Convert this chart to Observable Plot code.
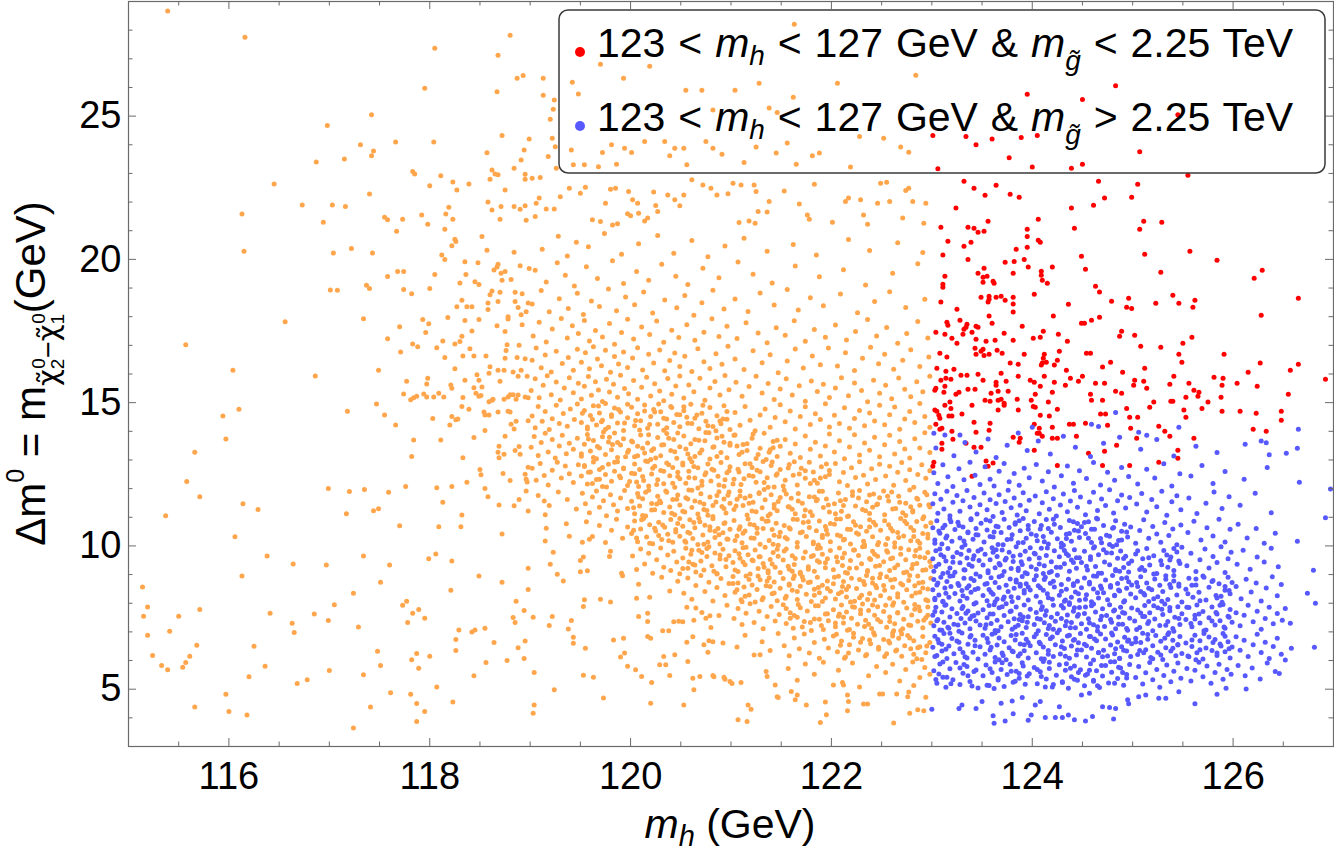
<!DOCTYPE html>
<html><head><meta charset="utf-8">
<script src="https://cdn.jsdelivr.net/npm/d3@7"></script>
<script src="https://cdn.jsdelivr.net/npm/@observablehq/plot@0.6"></script>
<style>body{margin:0;background:#fff}svg{display:block}text{white-space:pre}</style>
</head><body><div id="chart"></div>
<script>
// ---------- axes / labels ----------
const xDomain = [115, 127];
const yDomain = [3, 29];
const xMajorTicks = [116, 118, 120, 122, 124, 126];
const xMinorTicks = [115.5,116.5,117,117.5,118.5,119,119.5,120.5,121,121.5,122.5,123,123.5,124.5,125,125.5,126.5];
const yMajorTicks = [5, 10, 15, 20, 25];
const yMinorTicks = [4,6,7,8,9,11,12,13,14,16,17,18,19,21,22,23,24,26,27,28];
const seriesColors = {orange: "#FFA64D", red: "#FF0000", blue: "#5858FF"};
const legendRelations = ["<", ">"];
const legendColors = [seriesColors.red, seriesColors.blue];

// ---------- data: [m_h (GeV), Δm0 (GeV)] ----------
const orangeLeft = [
[115.39,28.67],[116.16,27.75],[118.05,27.37],[118.8,27.82],[118.68,27.12],[117.95,25.97],[118.67,25.85],[118.87,26.32],[118.93,26.42],[117.42,25.05],[116.98,24.67],[117.31,24.0],[117.66,24.1],[118.04,24.1],[118.72,24.32],[118.99,24.2],[116.87,23.4],[117.15,23.5],[117.42,23.62],[117.44,23.78],[118.57,23.72],[118.94,23.82],[118.91,23.47],[116.45,22.63],[117.83,23.07],[117.85,22.98],[118.11,22.92],[118.23,22.7],[118.27,22.42],[118.39,22.63],[118.62,23.12],[118.6,22.8],[118.65,22.98],[118.68,22.95],[118.84,23.18],[118.95,22.97],[118.95,22.8],[118.75,22.42],[117.4,22.28],[118.0,22.57],
[116.13,21.58],[116.73,21.9],[117.03,21.9],[117.16,21.85],[116.94,21.3],[117.55,21.47],[117.58,21.38],[117.73,21.4],[117.92,21.55],[117.98,21.23],[118.19,21.82],[118.16,21.58],[118.23,21.4],[118.58,22.0],[118.62,21.72],[118.71,21.85],[118.7,21.4],[118.84,21.85],[118.9,21.75],[118.95,21.87],[118.96,21.37],[117.67,20.98],[118.15,21.05],[118.52,20.8],[118.25,20.7],[118.26,20.62],[118.22,20.48],[116.15,20.28],[117.04,20.22],[117.22,20.38],[117.43,20.22],[118.12,20.15],[118.15,20.0],[118.57,20.32],[118.84,20.25],[118.35,19.92],[118.48,19.88],[118.68,19.83],[118.64,19.63],[118.67,19.73],[118.71,19.52],[118.75,19.58],[118.9,19.78],[118.99,19.68],[117.58,19.4],[117.68,19.58],[117.74,19.58],[118.05,19.47],[118.36,19.47],[118.72,19.27],[118.81,19.3],[118.3,19.18],[118.45,19.22],[118.49,19.12],
[117.01,18.93],[117.08,18.92],[117.37,19.1],[117.4,18.98],[117.74,18.95],[117.82,18.8],[118.0,18.98],[118.62,18.9],[118.6,18.77],[118.7,18.85],[118.85,18.85],[118.92,18.8],[118.98,18.48],[118.32,18.57],[118.58,18.48],[118.58,18.25],[118.68,18.53],[118.85,18.53],[118.88,18.32],[118.27,18.35],[118.37,18.35],[118.42,18.35],[118.96,18.17],[118.78,18.0],[118.78,17.92],[118.91,18.07],[118.35,17.87],[118.49,17.9],[118.18,17.97],[116.56,17.82],[117.34,17.93],[117.93,17.9],[117.99,17.75],[117.96,17.45],[117.7,17.65],[118.42,17.5],[118.67,17.68],[118.75,17.48],[118.92,17.72],[115.57,17.02],[117.58,17.23],[117.83,17.05],[117.88,16.95],[118.13,17.15],[118.07,16.92],[118.25,17.05],[118.3,17.13],[118.32,17.32],[118.4,16.88],[118.77,17.02],[118.76,16.82],[118.75,16.55],[118.89,17.0],[118.87,16.58],[118.95,16.53],[117.71,16.77],[118.15,16.58],[118.33,16.63],[118.44,16.63],[118.56,16.63],
[116.04,16.13],[116.86,15.93],[117.49,16.13],[118.25,16.18],[118.6,16.25],[118.59,16.03],[118.68,16.13],[118.74,16.13],[118.83,16.07],[118.88,15.92],[118.91,16.13],[118.97,15.92],[118.47,15.97],[118.49,15.78],[117.77,15.75],[117.98,15.85],[117.97,15.65],[118.35,15.78],[118.7,15.75],[118.21,15.62],[118.22,15.5],[118.44,15.52],[118.46,15.33],[118.52,15.55],[118.49,15.22],[118.51,15.25],[117.74,15.3],[117.84,15.17],[117.87,15.22],[117.81,15.1],[117.94,15.3],[117.97,15.2],[118.04,15.2],[118.09,15.33],[118.14,15.2],[118.33,15.18],[118.59,15.03],[118.62,15.08],[118.63,15.12],[118.74,15.12],[118.78,15.2],[118.8,15.28],[118.83,15.28],[118.86,15.12],[118.88,15.27],[118.95,15.2],[118.98,15.17],
[117.47,14.95],[117.18,14.7],[115.94,14.53],[116.1,14.77],[117.55,14.57],[118.32,14.87],[118.39,14.77],[118.54,14.67],[118.55,14.57],[118.59,14.57],[118.68,14.67],[118.78,14.7],[118.8,14.67],[118.03,14.45],[118.26,14.4],[118.28,14.43],[118.22,14.52],[118.86,14.35],[118.81,14.25],[118.98,14.37],[117.66,14.22],[118.2,14.22],[118.84,14.08],[118.55,14.03],[115.97,13.73],[117.84,13.7],[118.11,13.7],[118.44,13.78],[118.75,13.83],[115.66,13.27],[118.69,13.48],[118.68,13.27],[118.69,13.08],[118.74,13.2],[118.85,13.33],[118.89,13.47],[118.9,13.2],[117.82,13.12],[118.33,13.08],[118.98,12.75],[115.58,12.25],[118.5,12.67],[118.51,12.48],[118.73,12.53],[118.8,12.28],[118.95,12.5],[118.96,12.33],
[115.71,11.72],[116.99,12.0],[117.2,11.9],[117.35,11.97],[117.59,11.87],[117.76,12.07],[118.07,12.03],[118.22,12.07],[118.37,12.22],[118.55,12.0],[118.58,11.72],[118.97,12.23],[118.96,11.92],[116.14,11.47],[116.29,11.27],[115.37,11.05],[117.17,11.12],[117.44,11.23],[117.49,11.3],[118.13,11.52],[118.32,11.08],[118.69,11.43],[118.84,11.4],[118.89,11.62],[118.98,11.22],[116.06,10.32],[117.7,10.7],[118.09,10.67],[118.31,10.67],[118.72,10.42],[116.38,9.65],[116.64,9.37],[116.97,9.33],[117.34,9.65],[117.6,9.33],[117.99,9.55],[118.06,9.72],[118.22,9.47],[118.98,9.22],[116.13,8.95],[117.51,8.73],[118.49,8.95],[118.72,8.73],[118.98,8.48],[115.14,8.57],[118.21,8.45],[117.24,8.35],[118.86,8.07],
[115.19,7.87],[115.15,7.55],[115.71,7.78],[115.5,7.55],[117.05,7.95],[117.73,7.93],[117.77,8.07],[117.89,7.78],[117.83,7.65],[116.41,7.65],[116.85,7.62],[116.99,7.4],[117.95,7.48],[117.78,7.33],[116.63,7.3],[116.65,6.98],[118.94,7.75],[118.83,7.5],[118.85,7.33],[117.29,7.17],[115.19,6.88],[115.41,7.02],[118.29,7.07],[118.42,7.0],[118.45,7.07],[118.55,7.13],[118.26,6.73],[118.64,6.63],[118.95,6.68],[118.88,6.45],[115.68,6.53],[116.25,6.5],[115.24,6.18],[115.61,6.15],[115.57,5.93],[115.54,5.77],[115.33,5.83],[115.39,5.68],[117.48,6.32],[117.87,6.25],[117.82,6.03],[117.89,5.73],[118.0,6.15],[118.26,6.35],[118.77,6.0],[118.56,5.93],[118.94,6.07],[116.36,5.8],[117.51,5.83],[117.0,5.65],[116.2,5.43],[117.34,5.5],[118.44,5.47],[116.68,5.2],[116.78,5.33],[118.07,5.08],[117.61,4.88],[115.97,4.82],[117.81,4.82],[115.66,4.38],[117.41,4.38],[117.87,4.5],[118.23,4.55],[116.0,4.22],[116.18,4.1],[117.95,4.22],[117.87,3.87],[117.24,3.65]
];

const orangeUpper = [
[121.63,28.21],[119.13,26.32],[119.42,26.18],[119.48,25.77],[119.7,26.81],[120.19,26.74],[119.93,26.32],[120.55,25.9],[120.71,25.9],[121.04,25.9],[121.28,26.15],[121.62,25.66],[122.06,26.15],[122.84,26.43],[119.13,25.73],[119.24,25.56],[119.2,24.89],[119.23,25.24],[119.81,24.0],[119.72,23.73],[119.94,23.88],[120.01,23.73],[120.14,24.11],[120.34,24.11],[120.44,23.88],[120.39,23.62],[120.53,23.88],[120.56,23.3],[120.75,24.11],[120.82,23.88],[120.91,23.67],[121.13,23.38],[121.25,23.92],[121.45,23.71],[121.56,24.06],[121.65,23.32],[121.81,23.62],[121.88,23.71],[122.19,23.22],[122.28,24.29],[122.52,24.23],[122.69,23.92],[122.77,23.74],[121.38,25.28],[121.46,25.13],[120.82,25.21],[119.43,23.3],[119.54,23.3],[119.68,23.23],[119.86,23.32],[119.26,23.18],[119.41,23.82],[119.22,24.23],[119.25,23.93],[119.18,23.59],
[119.02,22.83],[119.1,22.86],[119.09,22.14],[119.06,21.96],[119.16,21.76],[119.24,21.76],[119.05,21.5],[119.3,22.19],[119.39,22.48],[119.5,22.31],[119.55,22.52],[119.8,22.45],[119.85,22.48],[119.98,22.37],[120.02,22.08],[120.07,21.96],[119.75,21.96],[119.62,21.38],[119.7,21.32],[119.82,21.2],[119.87,21.24],[119.97,21.59],[120.0,21.52],[120.08,21.61],[120.17,21.44],[120.14,21.34],[120.23,22.35],[120.25,21.88],[120.27,21.67],[120.37,22.25],[120.44,22.08],[120.53,22.25],[120.49,21.87],[120.61,22.78],[120.72,22.6],[120.8,22.48],[120.86,22.25],[120.97,22.29],[121.02,22.66],[121.1,22.6],[121.23,22.6],[121.25,22.37],[121.53,22.39],[121.68,21.93],[121.38,22.02],[121.36,21.65],[121.27,21.67],[121.18,21.34],[121.24,21.26],[121.08,21.29],[121.76,21.55],[121.78,21.4],[121.83,22.62],[122.14,22.02],[122.17,22.14],[122.29,22.08],[122.32,21.55],[122.46,21.96],[122.58,22.02],[122.49,22.66],[122.55,22.69],[122.74,22.4],[122.77,22.48],[122.81,22.02],[122.94,21.96],[122.71,21.44],[122.92,21.26],[122.01,21.3],[122.36,21.23]
];

const orangeCore = [
[119.12,20.35],[119.28,20.81],[119.37,20.12],[119.46,20.6],[119.58,20.44],[119.74,20.9],[119.91,20.18],[120.08,20.55],[120.27,20.83],[120.43,20.21],[120.61,20.66],[120.77,20.09],[120.94,20.47],[121.13,20.74],[121.36,20.28],[121.62,20.52],[121.85,20.15],[122.17,20.69],[122.38,20.31],[122.66,20.58],[122.91,20.24],
[119.05,19.62],[119.16,19.21],[119.27,19.88],[119.35,19.45],[119.44,19.07],[119.56,19.74],[119.67,19.33],[119.82,19.95],[119.93,19.16],[120.06,19.58],[120.18,19.27],[120.31,19.83],[120.45,19.41],[120.57,19.12],[120.72,19.69],[120.88,19.36],[121.07,19.91],[121.22,19.48],[121.41,19.18],[121.64,19.77],[121.88,19.39],[122.12,19.64],[122.34,19.11],[122.61,19.52],[122.86,19.85],
[119.02,18.44],[119.11,18.91],[119.19,18.17],[119.29,18.63],[119.38,18.29],[119.47,18.82],[119.53,18.08],[119.61,18.55],[119.69,18.36],[119.78,18.97],[119.86,18.21],[119.95,18.69],[120.04,18.42],[120.13,18.86],[120.22,18.13],[120.34,18.58],[120.46,18.31],[120.54,18.74],[120.63,18.05],[120.71,18.49],[120.82,18.92],[120.93,18.27],[121.04,18.62],[121.17,18.18],[121.29,18.83],[121.43,18.41],[121.56,18.95],[121.67,18.23],[121.79,18.66],[121.92,18.38],[122.09,18.79],[122.26,18.14],[122.43,18.53],[122.58,18.87],[122.74,18.32],[122.93,18.61],
[119.03,17.33],[119.09,17.81],[119.16,17.12],[119.22,17.57],[119.31,17.94],[119.37,17.26],[119.42,17.68],[119.48,17.41],[119.54,17.87],[119.59,17.15],[119.65,17.52],[119.72,17.29],[119.79,17.76],[119.84,17.04],[119.91,17.45],[119.97,17.91],[120.03,17.22],[120.11,17.64],[120.19,17.38],[120.26,17.85],[120.33,17.11],[120.41,17.53],[120.48,17.27],[120.56,17.72],[120.64,17.18],[120.73,17.46],[120.81,17.93],[120.88,17.31],[120.96,17.67],[121.06,17.24],[121.15,17.79],[121.27,17.43],[121.36,17.09],[121.45,17.61],[121.54,17.35],[121.63,17.86],[121.74,17.14],[121.83,17.55],[121.94,17.28],[122.04,17.71],[122.15,17.19],[122.24,17.48],[122.36,17.9],[122.45,17.33],[122.55,17.62],[122.66,17.07],[122.75,17.41],[122.86,17.83],[122.96,17.26],
[119.02,16.48],[119.06,16.91],[119.11,16.22],[119.15,16.66],[119.21,16.07],[119.26,16.79],[119.32,16.37],[119.38,16.58],[119.43,16.13],[119.47,16.86],[119.51,16.41],[119.55,16.74],[119.59,16.18],[119.63,16.95],[119.67,16.52],[119.71,16.29],[119.75,16.83],[119.8,16.06],[119.84,16.61],[119.88,16.35],[119.93,16.77],[119.97,16.23],[120.02,16.56],[120.07,16.92],[120.12,16.14],[120.18,16.69],[120.23,16.38],[120.29,16.84],[120.34,16.11],[120.39,16.47],[120.44,16.73],[120.49,16.26],[120.54,16.62],[120.61,16.09],[120.67,16.88],[120.73,16.43],[120.79,16.19],[120.85,16.71],[120.91,16.34],[120.97,16.97],[121.04,16.52],[121.13,16.16],[121.22,16.81],[121.31,16.39],[121.39,16.67],[121.47,16.04],[121.56,16.45],[121.64,16.87],[121.72,16.21],[121.81,16.63],[121.89,16.32],[121.97,16.91],[122.06,16.28],[122.14,16.74],[122.23,16.12],[122.31,16.55],[122.39,16.93],[122.47,16.36],[122.53,16.69],[122.62,16.17],[122.71,16.48],[122.79,16.85],[122.88,16.26],[122.97,16.59],
[119.01,15.42],[119.05,15.83],[119.09,15.17],[119.13,15.61],[119.17,15.94],[119.21,15.28],[119.26,15.72],[119.3,15.09],[119.34,15.51],[119.39,15.87],[119.43,15.35],[119.48,15.68],[119.51,15.13],[119.54,15.57],[119.58,15.91],[119.61,15.26],[119.65,15.73],[119.68,15.44],[119.72,15.04],[119.76,15.82],[119.79,15.37],[119.83,15.64],[119.87,15.19],[119.9,15.96],[119.94,15.49],[119.98,15.31],[120.03,15.77],[120.07,15.12],[120.11,15.54],[120.16,15.89],[120.2,15.23],[120.24,15.66],[120.29,15.41],[120.33,15.07],[120.37,15.84],[120.41,15.29],[120.45,15.58],[120.49,15.93],[120.53,15.16],[120.58,15.62],[120.63,15.38],[120.69,15.85],[120.74,15.08],[120.79,15.51],[120.84,15.74],[120.89,15.27],[120.94,15.95],[120.98,15.45],[121.05,15.71],[121.11,15.22],[121.18,15.56],[121.25,15.92],[121.31,15.34],[121.37,15.67],[121.43,15.11],[121.49,15.48],[121.55,15.83],[121.61,15.27],[121.68,15.59],[121.74,15.05],[121.8,15.76],[121.86,15.39],[121.92,15.64],[121.98,15.18],[122.04,15.51],[122.1,15.87],[122.17,15.24],[122.23,15.69],[122.3,15.42],[122.36,15.03],[122.42,15.78],[122.48,15.33],[122.54,15.61],[122.6,15.14],[122.67,15.86],[122.73,15.47],[122.79,15.21],[122.85,15.73],[122.91,15.38],[122.98,15.92],
[119.02,14.53],[119.05,14.12],[119.08,14.87],[119.12,14.35],[119.15,14.69],[119.19,14.06],[119.22,14.44],[119.26,14.91],[119.29,14.27],[119.33,14.62],[119.37,14.18],[119.4,14.78],[119.44,14.41],[119.47,14.95],[119.51,14.31],[119.54,14.73],[119.57,14.08],[119.6,14.55],[119.63,14.89],[119.66,14.22],[119.69,14.64],[119.72,14.39],[119.75,14.97],[119.78,14.14],[119.81,14.58],[119.84,14.81],[119.87,14.29],[119.9,14.67],[119.93,14.03],[119.97,14.47],[120.01,14.84],[120.04,14.19],[120.07,14.61],[120.1,14.37],[120.14,14.92],[120.17,14.11],[120.2,14.52],[120.23,14.76],[120.27,14.25],[120.3,14.68],[120.33,14.04],[120.36,14.43],[120.4,14.87],[120.43,14.31],[120.46,14.59],[120.49,14.16],[120.53,14.72],[120.57,14.28],[120.6,14.94],[120.64,14.46],[120.68,14.09],[120.71,14.63],[120.75,14.35],[120.79,14.83],[120.82,14.17],[120.86,14.54],[120.9,14.26],[120.93,14.89],[120.96,14.42],[120.99,14.06],[121.04,14.66],[121.09,14.21],[121.14,14.87],[121.19,14.39],[121.24,14.02],[121.29,14.57],[121.34,14.78],[121.39,14.14],[121.44,14.48],[121.49,14.93],[121.54,14.33],[121.59,14.71],[121.64,14.08],[121.69,14.52],[121.74,14.86],[121.79,14.24],[121.84,14.61],[121.89,14.41],[121.94,14.96],[121.98,14.15],[122.03,14.56],[122.08,14.27],[122.13,14.82],[122.18,14.11],[122.23,14.45],[122.28,14.73],[122.33,14.19],[122.38,14.64],[122.43,14.36],[122.48,14.91],[122.53,14.23],[122.58,14.58],[122.63,14.85],[122.68,14.07],[122.73,14.43],[122.78,14.69],[122.83,14.31],[122.88,14.97],[122.93,14.52],[122.98,14.14],
[119.01,13.44],[119.04,13.82],[119.08,13.16],[119.11,13.61],[119.15,13.93],[119.18,13.28],[119.22,13.71],[119.25,13.07],[119.29,13.49],[119.32,13.86],[119.36,13.22],[119.39,13.58],[119.43,13.37],[119.47,13.76],[119.51,13.13],[119.54,13.55],[119.57,13.89],[119.6,13.31],[119.63,13.68],[119.66,13.04],[119.69,13.42],[119.72,13.81],[119.75,13.19],[119.78,13.63],[119.81,13.36],[119.84,13.94],[119.87,13.09],[119.9,13.52],[119.93,13.74],[119.97,13.27],[120.01,13.66],[120.04,13.11],[120.07,13.48],[120.1,13.87],[120.14,13.24],[120.17,13.59],[120.2,13.02],[120.23,13.39],[120.27,13.78],[120.3,13.15],[120.33,13.53],[120.36,13.92],[120.4,13.33],[120.43,13.71],[120.46,13.06],[120.49,13.46],[120.53,13.84],[120.57,13.21],[120.6,13.57],[120.64,13.12],[120.68,13.69],[120.71,13.35],[120.75,13.96],[120.79,13.03],[120.82,13.44],[120.86,13.77],[120.9,13.26],[120.93,13.62],[120.96,13.08],[120.99,13.51],[121.04,13.87],[121.08,13.19],[121.12,13.54],[121.16,13.33],[121.21,13.76],[121.25,13.05],[121.29,13.41],[121.33,13.93],[121.38,13.27],[121.42,13.64],[121.46,13.12],[121.49,13.48],[121.54,13.71],[121.59,13.23],[121.64,13.56],[121.69,13.09],[121.74,13.84],[121.79,13.37],[121.84,13.62],[121.89,13.14],[121.94,13.49],[121.98,13.91],[122.03,13.28],[122.08,13.67],[122.13,13.04],[122.18,13.45],[122.23,13.88],[122.28,13.17],[122.33,13.59],[122.38,13.34],[122.43,13.79],[122.48,13.11],[122.53,13.53],[122.58,13.86],[122.63,13.21],[122.68,13.64],[122.73,13.38],[122.78,13.07],[122.83,13.74],[122.88,13.42],[122.93,13.95],[122.98,13.26],
[119.02,12.71],[119.06,12.29],[119.1,12.88],[119.14,12.46],[119.18,12.13],[119.22,12.64],[119.27,12.92],[119.31,12.37],[119.35,12.79],[119.39,12.52],[119.43,12.21],[119.48,12.83],[119.51,12.44],[119.54,12.77],[119.57,12.16],[119.6,12.58],[119.63,12.93],[119.66,12.32],[119.69,12.67],[119.72,12.07],[119.75,12.49],[119.78,12.85],[119.81,12.26],[119.84,12.61],[119.87,12.94],[119.9,12.38],[119.93,12.72],[119.97,12.11],[120.01,12.54],[120.04,12.86],[120.06,12.23],[120.09,12.67],[120.12,12.42],[120.15,12.96],[120.18,12.09],[120.21,12.51],[120.24,12.78],[120.27,12.31],[120.3,12.63],[120.33,12.17],[120.36,12.89],[120.39,12.45],[120.42,12.74],[120.44,12.05],[120.47,12.57],[120.49,12.34],[120.52,12.82],[120.55,12.19],[120.58,12.61],[120.61,12.94],[120.64,12.37],[120.67,12.73],[120.71,12.12],[120.74,12.48],[120.77,12.86],[120.8,12.27],[120.83,12.64],[120.87,12.43],[120.9,12.91],[120.93,12.08],[120.96,12.55],[120.99,12.76],[121.03,12.33],[121.07,12.68],[121.1,12.14],[121.14,12.87],[121.18,12.46],[121.21,12.74],[121.25,12.22],[121.29,12.59],[121.32,12.95],[121.36,12.38],[121.4,12.81],[121.43,12.06],[121.46,12.52],[121.49,12.67],[121.54,12.29],[121.58,12.84],[121.62,12.47],[121.66,12.13],[121.7,12.71],[121.74,12.36],[121.78,12.92],[121.82,12.58],[121.86,12.19],[121.9,12.76],[121.94,12.41],[121.98,12.63],[122.04,12.88],[122.08,12.24],[122.12,12.56],[122.16,12.11],[122.2,12.73],[122.24,12.39],[122.28,12.94],[122.32,12.47],[122.36,12.16],[122.4,12.69],[122.44,12.32],[122.48,12.85],[122.54,12.44],[122.58,12.78],[122.62,12.12],[122.66,12.57],[122.7,12.91],[122.74,12.28],[122.78,12.66],[122.82,12.05],[122.86,12.49],[122.9,12.83],[122.94,12.36],[122.98,12.62],
[119.08,11.76],[119.19,11.41],[119.28,11.88],[119.37,11.62],[119.46,11.29],[119.52,11.84],[119.55,11.47],[119.59,11.16],[119.62,11.71],[119.66,11.92],[119.69,11.35],[119.73,11.58],[119.76,11.05],[119.8,11.79],[119.83,11.44],[119.87,11.22],[119.9,11.67],[119.94,11.93],[119.97,11.31],[120.01,11.56],[120.04,11.12],[120.07,11.83],[120.09,11.39],[120.12,11.65],[120.15,11.04],[120.18,11.94],[120.21,11.48],[120.24,11.26],[120.27,11.73],[120.3,11.51],[120.33,11.17],[120.36,11.87],[120.39,11.36],[120.42,11.62],[120.44,11.09],[120.47,11.78],[120.49,11.43],[120.52,11.21],[120.55,11.68],[120.58,11.95],[120.61,11.34],[120.64,11.57],[120.67,11.11],[120.7,11.82],[120.73,11.46],[120.76,11.24],[120.79,11.71],[120.82,11.03],[120.85,11.53],[120.88,11.89],[120.91,11.38],[120.93,11.64],[120.95,11.15],[120.97,11.77],[120.99,11.49],[121.03,11.27],[121.06,11.63],[121.09,11.92],[121.12,11.41],[121.16,11.08],[121.19,11.74],[121.22,11.52],[121.25,11.19],[121.28,11.86],[121.31,11.33],[121.34,11.61],[121.37,11.05],[121.4,11.79],[121.43,11.45],[121.46,11.23],[121.49,11.69],[121.53,11.94],[121.57,11.37],[121.6,11.66],[121.64,11.12],[121.67,11.83],[121.71,11.49],[121.74,11.25],[121.78,11.72],[121.81,11.06],[121.85,11.58],[121.88,11.91],[121.92,11.34],[121.95,11.64],[121.98,11.18],[122.03,11.47],[122.07,11.85],[122.1,11.21],[122.14,11.62],[122.17,11.04],[122.21,11.76],[122.24,11.39],[122.28,11.93],[122.31,11.27],[122.35,11.54],[122.38,11.13],[122.42,11.81],[122.45,11.44],[122.48,11.68],[122.53,11.09],[122.57,11.57],[122.6,11.88],[122.64,11.31],[122.67,11.73],[122.71,11.16],[122.74,11.49],[122.78,11.95],[122.81,11.24],[122.85,11.66],[122.88,11.42],[122.92,11.02],[122.95,11.79],[122.98,11.36],
[119.56,10.84],[119.62,10.33],[119.69,10.71],[119.75,10.12],[119.81,10.55],[119.86,10.93],[119.92,10.27],[119.97,10.66],[120.01,10.43],[120.04,10.87],[120.07,10.15],[120.1,10.59],[120.13,10.96],[120.16,10.31],[120.19,10.74],[120.22,10.08],[120.25,10.52],[120.28,10.83],[120.31,10.22],[120.34,10.65],[120.37,10.41],[120.4,10.92],[120.42,10.13],[120.45,10.57],[120.47,10.78],[120.49,10.34],[120.52,10.69],[120.54,10.17],[120.57,10.48],[120.59,10.91],[120.62,10.26],[120.64,10.63],[120.67,10.05],[120.69,10.84],[120.72,10.38],[120.74,10.72],[120.77,10.14],[120.79,10.55],[120.82,10.95],[120.84,10.29],[120.87,10.61],[120.89,10.07],[120.92,10.46],[120.94,10.81],[120.97,10.23],[120.99,10.58],[121.03,10.89],[121.06,10.35],[121.09,10.67],[121.11,10.11],[121.14,10.52],[121.17,10.94],[121.2,10.28],[121.23,10.73],[121.26,10.44],[121.29,10.06],[121.32,10.61],[121.35,10.86],[121.38,10.19],[121.41,10.57],[121.43,10.37],[121.45,10.79],[121.47,10.02],[121.49,10.48],[121.53,10.71],[121.56,10.24],[121.59,10.59],[121.62,10.93],[121.66,10.12],[121.69,10.46],[121.72,10.82],[121.75,10.33],[121.78,10.64],[121.82,10.08],[121.85,10.53],[121.88,10.87],[121.91,10.29],[121.94,10.68],[121.96,10.41],[121.99,10.15],[122.03,10.76],[122.06,10.38],[122.09,10.94],[122.12,10.21],[122.16,10.58],[122.19,10.07],[122.22,10.84],[122.25,10.45],[122.29,10.67],[122.32,10.16],[122.35,10.51],[122.38,10.91],[122.41,10.32],[122.44,10.73],[122.46,10.04],[122.49,10.55],[122.53,10.88],[122.56,10.26],[122.59,10.62],[122.63,10.11],[122.66,10.47],[122.69,10.96],[122.72,10.35],[122.75,10.77],[122.79,10.18],[122.82,10.54],[122.85,10.85],[122.88,10.09],[122.91,10.43],[122.94,10.69],[122.96,10.28],[122.99,10.81],
[120.02,9.65],[120.06,9.18],[120.1,9.89],[120.14,9.37],[120.18,9.74],[120.22,9.05],[120.26,9.52],[120.3,9.93],[120.33,9.26],[120.37,9.68],[120.4,9.14],[120.43,9.81],[120.46,9.44],[120.49,9.03],[120.52,9.58],[120.55,9.92],[120.57,9.22],[120.6,9.71],[120.62,9.36],[120.65,9.09],[120.68,9.85],[120.7,9.47],[120.73,9.16],[120.76,9.63],[120.78,9.97],[120.81,9.31],[120.84,9.75],[120.86,9.04],[120.89,9.54],[120.92,9.88],[120.95,9.27],[120.98,9.66],[121.02,9.42],[121.04,9.83],[121.07,9.11],[121.09,9.57],[121.12,9.94],[121.14,9.34],[121.17,9.69],[121.19,9.02],[121.22,9.48],[121.24,9.86],[121.27,9.21],[121.29,9.62],[121.32,9.39],[121.34,9.95],[121.37,9.13],[121.39,9.53],[121.42,9.77],[121.44,9.26],[121.47,9.64],[121.49,9.07],[121.52,9.51],[121.55,9.89],[121.58,9.19],[121.61,9.66],[121.63,9.35],[121.66,9.96],[121.69,9.08],[121.72,9.58],[121.74,9.79],[121.77,9.27],[121.8,9.63],[121.83,9.12],[121.86,9.91],[121.88,9.43],[121.91,9.71],[121.94,9.24],[121.96,9.55],[121.99,9.84],[122.02,9.17],[122.05,9.61],[122.08,9.93],[122.11,9.32],[122.13,9.74],[122.16,9.05],[122.19,9.49],[122.22,9.86],[122.25,9.23],[122.27,9.67],[122.3,9.38],[122.33,9.98],[122.36,9.11],[122.38,9.56],[122.41,9.81],[122.44,9.29],[122.46,9.64],[122.49,9.02],[122.52,9.45],[122.55,9.83],[122.58,9.14],[122.61,9.58],[122.63,9.96],[122.66,9.33],[122.69,9.71],[122.72,9.06],[122.74,9.52],[122.77,9.87],[122.8,9.21],[122.83,9.65],[122.85,9.39],[122.88,9.92],[122.91,9.15],[122.93,9.59],[122.96,9.77],[122.99,9.28],
[120.08,8.66],[120.19,8.21],[120.31,8.91],[120.39,8.43],[120.47,8.77],[120.53,8.35],[120.57,8.88],[120.61,8.14],[120.65,8.62],[120.7,8.97],[120.74,8.41],[120.78,8.73],[120.82,8.08],[120.86,8.55],[120.9,8.86],[120.94,8.27],[120.98,8.69],[121.02,8.93],[121.04,8.38],[121.07,8.71],[121.1,8.12],[121.13,8.57],[121.15,8.95],[121.18,8.29],[121.21,8.64],[121.24,8.04],[121.26,8.48],[121.29,8.82],[121.32,8.19],[121.35,8.61],[121.38,8.89],[121.41,8.33],[121.43,8.74],[121.46,8.09],[121.49,8.52],[121.52,8.86],[121.55,8.24],[121.58,8.67],[121.61,8.45],[121.63,8.96],[121.66,8.13],[121.69,8.59],[121.72,8.81],[121.75,8.31],[121.77,8.72],[121.8,8.06],[121.83,8.49],[121.86,8.91],[121.88,8.37],[121.91,8.63],[121.94,8.18],[121.96,8.78],[121.99,8.42],[122.02,8.68],[122.04,8.15],[122.07,8.94],[122.1,8.39],[122.12,8.76],[122.15,8.22],[122.17,8.58],[122.2,8.87],[122.23,8.07],[122.25,8.51],[122.28,8.83],[122.3,8.28],[122.33,8.65],[122.35,8.97],[122.38,8.34],[122.41,8.71],[122.43,8.11],[122.45,8.54],[122.48,8.89],[122.49,8.26],[122.52,8.62],[122.55,8.92],[122.58,8.17],[122.61,8.56],[122.63,8.84],[122.66,8.33],[122.69,8.69],[122.72,8.03],[122.75,8.47],[122.77,8.79],[122.8,8.25],[122.83,8.61],[122.86,8.95],[122.88,8.38],[122.91,8.73],[122.94,8.12],[122.96,8.5],[122.99,8.87],
[120.56,7.86],[120.63,7.41],[120.71,7.68],[120.8,7.15],[120.88,7.57],[120.96,7.93],[121.03,7.47],[121.07,7.82],[121.11,7.26],[121.15,7.65],[121.19,7.98],[121.23,7.33],[121.28,7.72],[121.32,7.11],[121.36,7.54],[121.4,7.89],[121.44,7.38],[121.48,7.61],[121.52,7.95],[121.55,7.29],[121.59,7.67],[121.62,7.13],[121.66,7.51],[121.69,7.84],[121.73,7.36],[121.76,7.73],[121.8,7.05],[121.83,7.45],[121.87,7.91],[121.9,7.22],[121.94,7.62],[121.97,7.39],[122.02,7.77],[122.04,7.18],[122.07,7.55],[122.1,7.94],[122.12,7.31],[122.15,7.69],[122.18,7.08],[122.2,7.48],[122.23,7.86],[122.26,7.27],[122.29,7.63],[122.31,7.97],[122.34,7.41],[122.37,7.75],[122.4,7.12],[122.43,7.58],[122.46,7.88],[122.49,7.35],[122.52,7.71],[122.55,7.16],[122.58,7.52],[122.61,7.93],[122.63,7.28],[122.66,7.66],[122.69,7.04],[122.72,7.44],[122.75,7.83],[122.77,7.24],[122.8,7.59],[122.83,7.96],[122.86,7.37],[122.88,7.74],[122.91,7.14],[122.94,7.49],[122.96,7.87],[122.99,7.31],
[120.62,6.83],[120.77,6.29],[120.92,6.61],[121.06,6.47],[121.14,6.88],[121.23,6.19],[121.31,6.66],[121.39,6.35],[121.47,6.94],[121.53,6.52],[121.58,6.17],[121.63,6.79],[121.68,6.41],[121.73,6.93],[121.78,6.26],[121.83,6.63],[121.88,6.08],[121.93,6.74],[121.97,6.44],[122.02,6.86],[122.06,6.31],[122.1,6.68],[122.14,6.12],[122.18,6.55],[122.22,6.95],[122.27,6.37],[122.31,6.77],[122.35,6.21],[122.39,6.59],[122.43,6.89],[122.47,6.46],[122.52,6.73],[122.55,6.24],[122.58,6.61],[122.61,6.96],[122.64,6.33],[122.67,6.78],[122.7,6.15],[122.73,6.52],[122.76,6.87],[122.79,6.41],[122.82,6.69],[122.85,6.06],[122.88,6.48],[122.91,6.84],[122.94,6.27],[122.98,6.63],
[121.57,5.72],[121.66,5.31],[121.74,5.88],[121.83,5.52],[121.92,5.94],[122.07,5.66],[122.21,5.91],[122.37,5.47],[122.45,5.79],[122.54,5.58],[122.61,5.87],[122.68,5.29],[122.74,5.69],[122.81,5.95],[122.88,5.41],[122.93,5.76],[122.98,5.52]
];

const orangeDense = [
[119.57,14.15],[119.81,14.52],[119.68,14.88],[119.94,14.29],[119.52,14.63],[119.75,14.07],[119.88,14.76],[119.62,14.41],[119.97,14.94],[119.71,14.33],
[120.14,14.71],[120.36,14.12],[120.05,14.38],[120.28,14.95],[120.49,14.58],[120.19,14.24],[120.41,14.83],[120.09,14.05],[120.33,14.46],[120.24,14.67],
[120.77,14.19],[120.53,14.86],[120.92,14.43],[120.66,14.57],[120.85,14.02],[120.61,14.27],[120.96,14.69],[120.72,14.91],[120.56,14.49],[120.89,14.36],
[119.95,13.11],[119.67,13.47],[119.79,13.79],[119.51,13.22],[119.87,13.61],[119.73,13.98],[119.58,13.73],[119.98,13.34],[119.63,13.09],[119.82,13.54],
[120.07,13.15],[120.31,13.52],[120.18,13.88],[120.44,13.29],[120.02,13.63],[120.25,13.07],[120.38,13.76],[120.12,13.41],[120.47,13.94],[120.21,13.33],
[120.64,13.71],[120.86,13.12],[120.55,13.38],[120.78,13.95],[120.99,13.58],[120.69,13.24],[120.91,13.83],[120.59,13.05],[120.83,13.46],[120.74,13.67],
[121.27,13.19],[121.03,13.86],[121.42,13.43],[121.16,13.57],[121.35,13.02],[121.11,13.27],[121.46,13.69],[121.22,13.91],[121.06,13.49],[121.39,13.36],
[119.62,12.18],[119.89,12.44],[119.54,12.81],[119.76,12.06],[119.93,12.69],[119.69,12.33],[119.84,12.92],[119.58,12.57],[119.99,12.25],[119.72,12.74],
[120.13,12.28],[120.38,12.83],[120.04,12.52],[120.26,12.14],[120.47,12.42],[120.17,12.95],[120.33,12.61],[120.08,12.07],[120.42,12.19],[120.22,12.71],
[120.58,12.39],[120.81,12.68],[120.67,12.02],[120.94,12.31],[120.52,12.89],[120.75,12.55],[120.88,12.13],[120.63,12.77],[120.98,12.62],[120.71,12.26],
[121.08,12.58],[121.33,12.21],[121.19,12.87],[121.45,12.47],[121.02,12.16],[121.26,12.64],[121.41,12.93],[121.13,12.34],[121.37,12.05],[121.22,12.43],
[121.57,12.72],[121.83,12.29],[121.68,12.51],[121.95,12.86],[121.52,12.09],[121.74,12.62],[121.89,12.37],[121.63,12.94],[121.79,12.18],[121.98,12.49],
[120.03,11.33],[120.29,11.58],[120.15,11.87],[120.41,11.14],[120.08,11.71],[120.35,11.92],[120.21,11.25],[120.46,11.63],[120.12,11.06],[120.26,11.46],
[120.69,11.52],[120.54,11.18],[120.86,11.76],[120.61,11.94],[120.93,11.31],[120.77,11.07],[120.57,11.64],[120.82,11.41],[120.98,11.88],[120.73,11.27],
[121.14,11.67],[121.39,11.11],[121.05,11.39],[121.28,11.83],[121.47,11.55],[121.21,11.22],[121.33,11.97],[121.09,11.74],[121.43,11.32],[121.18,11.49],
[121.61,11.28],[121.86,11.62],[121.73,11.04],[121.97,11.43],[121.55,11.81],[121.79,11.19],[121.67,11.57],[121.91,11.91],[121.58,11.36],[121.83,11.71],
[122.09,11.58],[122.34,11.23],[122.21,11.89],[122.46,11.46],[122.04,11.12],[122.27,11.67],[122.41,11.35],[122.16,11.03],[122.38,11.78],[122.12,11.41],
[122.56,11.73],[122.81,11.18],[122.68,11.52],[122.93,11.87],[122.61,11.29],[122.86,11.63],[122.74,11.06],[122.97,11.44],[122.52,11.92],[122.79,11.37],
[120.06,10.28],[120.32,10.73],[120.19,10.09],[120.45,10.49],[120.11,10.91],[120.38,10.18],[120.24,10.62],[120.49,10.96],[120.03,10.55],[120.28,10.36],
[120.63,10.82],[120.88,10.39],[120.55,10.13],[120.79,10.67],[120.96,10.24],[120.68,10.97],[120.84,10.51],[120.59,10.44],[120.93,10.78],[120.73,10.06],
[121.12,10.44],[121.37,10.87],[121.04,10.19],[121.26,10.62],[121.48,10.33],[121.19,10.76],[121.42,10.06],[121.08,10.58],[121.31,10.95],[121.23,10.27],
[121.66,10.92],[121.91,10.37],[121.58,10.63],[121.82,10.14],[121.99,10.78],[121.71,10.49],[121.87,10.03],[121.54,10.29],[121.95,10.56],[121.77,10.84],
[122.13,10.23],[122.38,10.66],[122.05,10.94],[122.27,10.41],[122.47,10.12],[122.19,10.57],[122.42,10.83],[122.09,10.35],[122.33,10.04],[122.24,10.72],
[122.61,10.52],[122.86,10.17],[122.73,10.86],[122.96,10.41],[122.54,10.05],[122.79,10.64],[122.67,10.29],[122.91,10.95],[122.57,10.74],[122.82,10.33],
[120.58,9.44],[120.83,9.12],[120.71,9.77],[120.95,9.53],[120.52,9.21],[120.76,9.91],[120.64,9.33],[120.89,9.68],[120.61,9.85],[120.86,9.02],
[121.08,9.73],[121.33,9.26],[121.21,9.51],[121.46,9.88],[121.04,9.16],[121.28,9.62],[121.41,9.37],[121.15,9.95],[121.37,9.06],[121.12,9.44],
[121.57,9.29],[121.82,9.67],[121.69,9.03],[121.94,9.41],[121.53,9.82],[121.77,9.19],[121.64,9.56],[121.89,9.93],[121.61,9.12],[121.86,9.48],
[122.11,9.59],[122.36,9.14],[122.23,9.86],[122.48,9.32],[122.06,9.45],[122.31,9.97],[122.18,9.22],[122.43,9.71],[122.14,9.07],[122.39,9.53],
[122.63,9.24],[122.88,9.61],[122.75,9.09],[122.98,9.46],[122.56,9.78],[122.81,9.35],[122.69,9.92],[122.94,9.17],[122.59,9.55],[122.84,9.84],
[121.06,8.47],[121.31,8.12],[121.18,8.83],[121.43,8.36],[121.02,8.69],[121.27,8.95],[121.14,8.24],[121.39,8.58],[121.11,8.05],[121.36,8.78],
[121.58,8.63],[121.83,8.28],[121.71,8.92],[121.96,8.51],[121.54,8.17],[121.79,8.74],[121.66,8.41],[121.91,8.06],[121.62,8.86],[121.87,8.55],
[122.07,8.33],[122.32,8.76],[122.19,8.04],[122.44,8.62],[122.03,8.91],[122.28,8.19],[122.15,8.48],[122.41,8.87],[122.11,8.58],[122.36,8.13],
[122.59,8.81],[122.84,8.36],[122.71,8.64],[122.96,8.09],[122.53,8.45],[122.78,8.97],[122.66,8.22],[122.91,8.53],[122.62,8.02],[122.87,8.71],
[121.59,7.48],[121.84,7.91],[121.71,7.17],[121.96,7.63],[121.55,7.82],[121.79,7.33],[121.67,7.96],[121.92,7.08],[121.63,7.57],[121.88,7.44],
[122.08,7.62],[122.33,7.19],[122.21,7.88],[122.46,7.43],[122.04,7.31],[122.29,7.76],[122.16,7.06],[122.41,7.94],[122.12,7.51],[122.37,7.27],
[122.58,7.36],[122.83,7.79],[122.71,7.11],[122.96,7.58],[122.54,7.93],[122.79,7.22],[122.66,7.68],[122.92,7.41],[122.62,7.04],[122.87,7.87],
[122.09,6.53],[122.34,6.17],[122.22,6.81],[122.47,6.39],[122.05,6.92],[122.29,6.64],[122.17,6.26],[122.42,6.97],[122.13,6.08],[122.38,6.72],
[122.57,6.68],[122.82,6.22],[122.7,6.93],[122.95,6.51],[122.53,6.14],[122.78,6.79],[122.65,6.37],[122.9,6.04],[122.61,6.86],[122.86,6.45]
];

const orangeLow = [
[119.03,7.51],[119.22,7.54],[119.19,7.22],[119.41,7.4],[119.38,7.1],[119.43,6.81],[119.43,6.6],[119.55,6.43],[119.04,5.58],[119.24,4.98],[119.04,4.45],[119.03,4.16],[119.54,8.12],[119.53,7.89],[119.7,8.14],[119.8,8.04],[119.53,5.49],[119.63,5.42],[119.73,4.69],[119.83,6.72],[119.93,6.78],[119.9,6.12],[119.94,6.26],[119.97,5.8],[120.05,5.68],[120.11,5.44],[120.06,8.17],[120.08,7.54],[120.17,7.65],[120.17,7.36],[120.17,6.84],[120.2,6.78],[120.21,5.23],[120.2,4.51],[120.29,5.85],[120.33,6.14],[120.35,5.85],[120.39,5.48],[120.32,7.04],[120.38,7.04],[120.44,6.2],[120.43,7.35],[120.48,7.37],[120.52,7.35],[120.56,6.64],[120.57,5.97],[120.53,4.45],[120.62,5.38],[120.63,4.98],[120.69,5.44],[120.65,7.83],[120.75,7.48],[120.79,7.56],[120.73,6.55],[120.78,6.69],[120.82,6.66],[120.82,5.48],[120.83,5.43],[120.93,5.42],[120.94,5.35],[120.99,5.27],[121.01,5.2],[121.1,5.23],[121.07,3.93],[121.16,3.87],[121.17,4.45],[121.2,4.3],[121.29,6.2],[121.35,5.62],[121.36,5.44],[121.44,5.15],[121.46,4.74],[121.47,4.71],[121.6,4.92],[121.64,4.63],[121.66,4.8],[121.75,4.45],[121.89,3.84],[121.94,4.55],[121.95,4.11],[122.02,5.15],[122.11,5.23],[122.12,5.15],[122.16,4.8],[122.17,4.57],[122.16,4.25],[122.28,5.08],[122.32,4.48],[122.36,4.48],[122.48,4.83],[122.51,4.83],[122.62,3.82],[122.65,4.83],[122.76,4.74],[122.77,4.9],[122.78,4.16],[122.86,4.28],[122.92,4.25],[122.94,4.72],[122.82,5.13],
[119.2,9.36],[119.23,9.78],[119.27,9.01],[119.53,9.61],[119.5,9.49],[119.5,9.1],[119.57,9.13],[119.91,9.05],[119.8,9.81],[119.79,9.63],[119.15,10.17],[119.16,10.62],[119.59,10.23],[119.52,10.13],[119.39,10.34],[119.36,10.77],[119.33,8.78],[119.92,8.96],[119.14,11.57],[119.15,11.09]
];

const redPoints = [
[123.06,23.16],[124.0,23.22],[124.39,23.18],[124.5,23.32],[125.55,22.94],[123.32,22.73],[123.42,22.48],[123.53,22.24],[123.64,22.59],[123.78,22.27],[123.87,22.17],[124.66,22.73],[124.72,22.14],[125.05,22.62],[124.99,22.17],[123.24,21.79],[124.39,21.79],[124.61,21.89],[123.09,21.12],[123.36,21.12],[123.42,21.09],[123.46,20.95],[123.52,20.98],[123.56,21.33],[124.06,21.4],[124.42,21.09],[125.11,21.33],[125.07,21.05],[125.29,21.3],[123.16,20.63],[123.32,20.46],[123.39,20.6],[123.95,21.05],[123.95,20.8],[123.95,20.42],[124.06,20.67],[124.08,20.6],[123.84,20.35],[123.11,20.15],[123.36,20.0],[123.73,19.9],[123.82,19.93],[123.92,20.0],[124.49,20.11],[125.12,20.18],[125.57,20.28],[125.84,19.97],[123.96,19.73],[124.2,19.73],[124.53,19.66],[123.46,19.52],[123.52,19.69],[123.51,19.38],[123.55,19.41],[123.51,19.2],[123.61,19.24],[123.62,19.17],[123.81,19.52],[124.09,19.59],[124.09,19.45],[124.1,19.27],[124.15,19.17],[125.28,19.55],[126.29,19.62],[126.21,19.34],[123.13,19.41],[123.11,19.13],[123.11,19.03],[124.02,18.78],[124.63,19.06],[124.67,18.86],[123.49,18.68],[123.57,18.71],[123.57,18.61],[123.56,18.51],[123.64,18.68],[123.69,18.71],[123.73,18.57],[123.81,18.68],[123.81,18.44],[123.81,18.16],[123.09,18.51],[124.36,18.43],[124.79,18.54],[124.96,18.64],[124.94,18.33],[124.99,18.29],[125.4,18.75],[125.46,18.47],[125.62,18.57],[125.6,18.33],[125.23,18.47],[126.65,18.64],[123.25,18.26],[123.57,18.02],[123.6,17.77],[123.28,17.88],[123.15,17.81],[123.16,17.7],[123.32,17.56],[123.34,17.63],[123.35,17.74],[123.44,17.67],[123.46,17.63],[124.21,18.02],[123.9,17.67],[124.49,17.77],[124.52,17.77],[124.59,17.88],[124.67,17.98],[126.28,18.05],
[123.04,17.46],[123.13,17.39],[123.2,17.25],[123.25,17.07],[123.31,17.39],[123.4,17.46],[123.44,17.21],[123.54,17.14],[123.63,17.18],[123.72,17.42],[123.81,17.18],[124.01,17.25],[124.08,17.28],[124.11,17.49],[124.26,17.39],[124.35,17.14],[124.87,17.32],[124.89,17.49],[125.02,17.35],[125.08,16.97],[125.28,16.93],[125.5,17.07],[125.59,17.28],[123.08,16.72],[123.15,16.59],[123.43,16.9],[123.44,16.69],[123.49,16.79],[123.51,16.86],[123.52,16.65],[123.57,16.69],[123.65,16.83],[123.7,16.72],[123.92,16.69],[124.12,16.69],[124.11,16.55],[124.27,16.79],[124.25,16.48],[124.14,16.41],[124.09,16.31],[124.1,16.38],[124.22,16.31],[124.54,16.72],[124.58,16.72],[124.78,16.41],[124.7,16.24],[125.46,16.69],[125.49,16.41],[125.91,16.69],[126.27,16.38],[126.65,16.34],[123.05,16.2],[123.14,16.1],[123.22,16.17],[123.14,15.85],[123.19,15.82],[123.09,15.78],[123.29,15.96],[123.35,15.96],[123.46,15.99],[123.51,15.78],[123.69,16.03],[123.78,16.38],[123.86,16.34],[123.86,15.92],[123.74,15.75],[123.64,15.71],[123.98,15.78],[124.02,15.71],[124.12,15.92],[124.22,15.71],[124.34,16.13],[124.38,15.85],[124.46,15.75],[124.5,15.92],[124.63,15.68],[124.72,15.68],[124.9,16.06],[125.02,15.78],[125.01,15.61],[125.11,15.75],[125.14,15.5],[125.12,16.2],[125.37,15.64],[125.41,15.92],[125.56,15.68],[125.61,15.43],[125.66,15.36],[125.65,15.22],[125.81,15.89],[125.9,15.85],[125.89,15.61],[126.04,15.68],[126.15,16.06],[126.24,15.57],[126.57,16.13],[126.92,15.82],
[123.03,15.43],[123.04,15.5],[123.13,15.57],[123.12,15.36],[123.24,15.29],[123.27,15.36],[123.36,15.47],[123.43,15.47],[123.59,15.33],[123.64,15.61],[123.66,15.4],[123.76,15.4],[124.03,15.29],[124.08,15.57],[124.2,15.36],[124.33,15.61],[124.58,15.29],[124.59,15.08],[124.7,15.08],[124.83,15.4],[124.89,15.33],[125.21,15.02],[125.17,14.84],[125.38,15.05],[125.4,15.05],[125.53,15.19],[125.75,15.02],[125.88,15.19],[126.55,15.29],[123.03,14.74],[123.05,14.7],[123.07,14.56],[123.08,14.46],[123.13,14.91],[123.18,15.02],[123.19,14.8],[123.2,14.53],[123.17,14.53],[123.3,14.6],[123.4,14.91],[123.53,15.08],[123.58,15.05],[123.66,15.08],[123.69,15.12],[123.66,14.74],[123.72,14.91],[123.72,14.98],[123.85,15.12],[123.86,14.74],[123.99,15.08],[124.01,14.87],[124.03,14.84],[124.08,14.56],[124.16,15.02],[124.17,14.53],[124.25,14.77],[124.68,14.6],[124.73,14.6],[124.94,14.8],[124.97,14.49],[125.05,14.49],[125.51,14.74],[125.53,14.49],[125.69,14.8],[125.89,14.7],[126.07,14.7],[126.23,14.63],[126.48,14.7],[126.48,14.39],[123.04,14.25],[123.1,14.11],[123.08,14.07],[123.2,14.0],[123.42,14.32],[123.58,14.28],[123.57,14.04],[124.02,14.25],[124.07,14.11],[124.07,13.93],[124.2,14.14],[124.37,14.25],[124.41,14.25],[124.53,14.28],[124.75,14.21],[124.98,14.11],[125.26,14.18],[125.32,14.0],[125.37,13.83],[125.61,13.76],[126.2,14.07],[126.33,14.0],[123.1,13.58],[123.1,13.37],[123.21,13.72],[123.34,13.58],[123.42,13.44],[123.49,13.44],[123.44,13.97],[123.81,13.79],[123.88,13.76],[123.87,13.62],[124.05,13.93],[124.1,13.83],[124.2,13.76],[124.25,13.76],[124.44,13.83],[124.84,13.51],[125.04,13.76],[124.02,13.34],[124.56,13.23],[124.72,13.3],[125.45,13.34],[125.45,13.06],[123.02,12.92],[123.01,12.78],[123.54,12.96],[123.56,12.78],[123.61,12.89],[124.25,12.81],[124.7,12.81],[125.26,12.92],[123.4,12.43],[124.97,12.81],
[123.95,25.76],[124.5,25.58],[124.83,26.06],[125.45,25.05],[123.01,24.32],[123.34,24.29],[123.6,24.2],[123.89,24.25],[124.05,24.32],[123.44,24.0],[123.77,23.55],[125.07,23.76]
];

const bluePoints = [
[123.04,13.42],[123.13,13.87],[123.22,13.15],[123.33,13.61],[123.44,13.28],[123.56,13.73],[123.64,13.09],[123.75,13.51],[123.86,13.94],[123.95,13.33],[124.06,13.66],[124.18,13.21],[124.31,13.83],[124.43,13.44],[124.58,13.12],[124.71,13.58],[124.87,13.79],[125.08,13.37],[125.24,13.71],[125.41,13.14],[125.63,13.48],[125.84,13.26],[126.12,13.55],[126.36,13.18],
[123.02,12.55],[123.06,12.18],[123.11,12.83],[123.16,12.41],[123.21,12.07],[123.27,12.69],[123.32,12.31],[123.38,12.92],[123.43,12.47],[123.48,12.14],[123.53,12.76],[123.58,12.33],[123.62,12.09],[123.67,12.61],[123.72,12.88],[123.77,12.24],[123.82,12.53],[123.87,12.12],[123.92,12.71],[123.97,12.38],[124.04,12.84],[124.1,12.27],[124.16,12.59],[124.22,12.06],[124.29,12.45],[124.35,12.79],[124.41,12.19],[124.47,12.62],[124.54,12.35],[124.61,12.91],[124.68,12.13],[124.75,12.57],[124.82,12.29],[124.89,12.74],[124.96,12.42],[125.05,12.16],[125.14,12.68],[125.22,12.37],[125.31,12.87],[125.39,12.09],[125.47,12.52],[125.58,12.44],[125.69,12.81],[125.8,12.18],[125.92,12.6],[126.11,12.33],[126.34,12.74],
[123.01,11.47],[123.03,11.82],[123.06,11.14],[123.09,11.63],[123.12,11.29],[123.15,11.91],[123.18,11.05],[123.21,11.52],[123.25,11.76],[123.28,11.21],[123.31,11.58],[123.35,11.93],[123.38,11.36],[123.42,11.69],[123.45,11.11],[123.48,11.44],[123.52,11.85],[123.55,11.26],[123.58,11.61],[123.61,11.03],[123.64,11.48],[123.67,11.79],[123.7,11.17],[123.73,11.55],[123.76,11.94],[123.79,11.33],[123.82,11.67],[123.85,11.08],[123.88,11.42],[123.91,11.86],[123.94,11.23],[123.97,11.59],[124.03,11.74],[124.07,11.12],[124.1,11.51],[124.14,11.89],[124.17,11.28],[124.21,11.65],[124.24,11.04],[124.28,11.43],[124.31,11.81],[124.35,11.19],[124.38,11.57],[124.42,11.93],[124.45,11.35],[124.48,11.71],[124.53,11.09],[124.57,11.53],[124.61,11.87],[124.65,11.24],[124.69,11.64],[124.73,11.41],[124.77,11.96],[124.81,11.15],[124.85,11.58],[124.89,11.78],[124.93,11.32],[124.97,11.69],[125.04,11.46],[125.09,11.83],[125.14,11.18],[125.19,11.62],[125.24,11.37],[125.29,11.91],[125.34,11.07],[125.39,11.54],[125.44,11.75],[125.48,11.26],[125.56,11.67],[125.64,11.13],[125.73,11.49],[125.81,11.88],[125.89,11.31],[125.96,11.72],[126.07,11.42],[126.22,11.84],[126.38,11.16],
[123.01,10.63],[123.03,10.21],[123.05,10.88],[123.08,10.44],[123.1,10.07],[123.13,10.72],[123.15,10.35],[123.18,10.94],[123.2,10.16],[123.23,10.57],[123.26,10.83],[123.28,10.28],[123.31,10.66],[123.33,10.04],[123.36,10.49],[123.39,10.91],[123.41,10.23],[123.44,10.61],[123.46,10.38],[123.49,10.79],[123.52,10.14],[123.55,10.56],[123.58,10.87],[123.61,10.31],[123.64,10.69],[123.66,10.05],[123.69,10.47],[123.72,10.93],[123.75,10.22],[123.77,10.64],[123.8,10.39],[123.83,10.81],[123.86,10.11],[123.88,10.53],[123.91,10.96],[123.94,10.27],[123.96,10.71],[123.99,10.42],[124.02,10.85],[124.05,10.18],[124.08,10.59],[124.11,10.33],[124.14,10.92],[124.16,10.07],[124.19,10.48],[124.22,10.76],[124.25,10.25],[124.28,10.64],[124.31,10.02],[124.34,10.41],[124.37,10.89],[124.39,10.16],[124.42,10.55],[124.45,10.78],[124.47,10.29],[124.49,10.67],[124.53,10.43],[124.56,10.84],[124.59,10.12],[124.62,10.58],[124.65,10.94],[124.68,10.26],[124.71,10.71],[124.74,10.37],[124.77,10.05],[124.8,10.62],[124.83,10.88],[124.86,10.19],[124.89,10.51],[124.92,10.76],[124.95,10.31],[124.98,10.66],[125.03,10.09],[125.07,10.54],[125.11,10.91],[125.16,10.27],[125.2,10.68],[125.24,10.42],[125.28,10.13],[125.32,10.82],[125.36,10.36],[125.4,10.59],[125.44,10.04],[125.48,10.73],[125.55,10.47],[125.61,10.86],[125.68,10.21],[125.74,10.63],[125.8,10.35],[125.86,10.93],[125.92,10.14],[125.97,10.58],[126.05,10.76],[126.14,10.28],[126.23,10.61],[126.31,10.09],[126.42,10.44],
[123.01,9.55],[123.02,9.12],[123.04,9.83],[123.07,9.36],[123.09,9.69],[123.11,9.04],[123.14,9.47],[123.16,9.91],[123.18,9.23],[123.21,9.61],[123.23,9.08],[123.25,9.77],[123.28,9.41],[123.3,9.95],[123.32,9.17],[123.35,9.58],[123.37,9.84],[123.4,9.29],[123.42,9.66],[123.44,9.02],[123.47,9.49],[123.49,9.88],[123.51,9.33],[123.53,9.71],[123.56,9.06],[123.58,9.52],[123.6,9.94],[123.63,9.24],[123.65,9.63],[123.67,9.39],[123.7,9.86],[123.72,9.11],[123.74,9.57],[123.77,9.78],[123.79,9.21],[123.81,9.46],[123.84,9.97],[123.86,9.14],[123.88,9.68],[123.9,9.35],[123.93,9.81],[123.95,9.03],[123.97,9.54],[123.99,9.27],[124.02,9.74],[124.04,9.19],[124.07,9.58],[124.09,9.92],[124.12,9.31],[124.14,9.67],[124.17,9.07],[124.19,9.45],[124.22,9.83],[124.24,9.26],[124.27,9.62],[124.29,9.96],[124.32,9.38],[124.34,9.73],[124.37,9.12],[124.39,9.51],[124.42,9.87],[124.44,9.22],[124.47,9.59],[124.49,9.42],[124.52,9.81],[124.55,9.16],[124.58,9.53],[124.61,9.93],[124.63,9.28],[124.66,9.69],[124.69,9.05],[124.72,9.44],[124.74,9.76],[124.77,9.34],[124.8,9.98],[124.83,9.13],[124.85,9.57],[124.88,9.82],[124.91,9.25],[124.93,9.64],[124.96,9.09],[124.99,9.47],[125.03,9.72],[125.07,9.18],[125.1,9.55],[125.14,9.91],[125.17,9.33],[125.21,9.66],[125.24,9.04],[125.28,9.48],[125.31,9.84],[125.35,9.26],[125.38,9.61],[125.41,9.14],[125.44,9.79],[125.47,9.39],[125.49,9.95],[125.54,9.31],[125.58,9.74],[125.63,9.11],[125.67,9.52],[125.72,9.89],[125.76,9.23],[125.8,9.63],[125.84,9.42],[125.88,9.97],[125.92,9.07],[125.95,9.55],[125.98,9.78],[126.04,9.36],[126.1,9.85],[126.17,9.19],[126.24,9.61],[126.31,9.44],[126.38,9.92],[126.45,9.27],
[123.01,8.47],[123.02,8.83],[123.03,8.12],[123.05,8.64],[123.07,8.29],[123.09,8.91],[123.11,8.05],[123.13,8.53],[123.15,8.76],[123.17,8.21],[123.19,8.58],[123.21,8.96],[123.23,8.34],[123.26,8.69],[123.28,8.08],[123.3,8.44],[123.32,8.87],[123.35,8.17],[123.37,8.61],[123.39,8.38],[123.42,8.79],[123.44,8.02],[123.46,8.51],[123.48,8.93],[123.51,8.27],[123.53,8.66],[123.55,8.09],[123.57,8.48],[123.59,8.89],[123.61,8.31],[123.63,8.72],[123.65,8.15],[123.67,8.55],[123.7,8.97],[123.72,8.22],[123.74,8.63],[123.76,8.41],[123.78,8.85],[123.8,8.06],[123.82,8.52],[123.84,8.74],[123.86,8.19],[123.88,8.59],[123.9,8.93],[123.92,8.36],[123.94,8.68],[123.96,8.11],[123.98,8.46],[124.02,8.82],[124.04,8.24],[124.06,8.61],[124.08,8.03],[124.11,8.45],[124.13,8.91],[124.15,8.33],[124.18,8.7],[124.2,8.14],[124.22,8.57],[124.25,8.98],[124.27,8.28],[124.29,8.65],[124.32,8.07],[124.34,8.49],[124.36,8.84],[124.39,8.21],[124.41,8.62],[124.43,8.39],[124.45,8.77],[124.47,8.1],[124.49,8.54],[124.52,8.88],[124.54,8.3],[124.57,8.67],[124.59,8.05],[124.61,8.5],[124.64,8.94],[124.66,8.18],[124.68,8.6],[124.71,8.37],[124.73,8.81],[124.75,8.12],[124.78,8.56],[124.8,8.97],[124.82,8.26],[124.85,8.69],[124.87,8.43],[124.89,8.86],[124.92,8.09],[124.94,8.52],[124.96,8.75],[124.98,8.32],[124.99,8.64],[125.03,8.19],[125.05,8.58],[125.08,8.92],[125.11,8.34],[125.14,8.71],[125.16,8.06],[125.19,8.47],[125.22,8.85],[125.25,8.23],[125.27,8.63],[125.3,8.41],[125.33,8.96],[125.35,8.13],[125.38,8.55],[125.41,8.78],[125.44,8.29],[125.46,8.67],[125.49,8.04],[125.53,8.49],[125.56,8.87],[125.6,8.21],[125.63,8.64],[125.66,8.38],[125.7,8.95],[125.73,8.11],[125.76,8.56],[125.8,8.79],[125.83,8.27],[125.86,8.68],[125.89,8.03],[125.92,8.45],[125.95,8.91],[125.97,8.33],[125.99,8.72],[126.03,8.58],[126.08,8.16],[126.13,8.84],[126.18,8.39],[126.23,8.71],[126.28,8.08],[126.33,8.53],[126.39,8.92],[126.44,8.26],[126.48,8.65],
[123.01,7.58],[123.02,7.21],[123.04,7.86],[123.06,7.43],[123.08,7.07],[123.1,7.69],[123.12,7.34],[123.14,7.95],[123.16,7.16],[123.18,7.52],[123.2,7.81],[123.22,7.27],[123.25,7.64],[123.27,7.02],[123.29,7.47],[123.31,7.89],[123.33,7.31],[123.36,7.73],[123.38,7.11],[123.4,7.55],[123.42,7.97],[123.44,7.38],[123.46,7.66],[123.48,7.24],[123.51,7.77],[123.53,7.13],[123.55,7.49],[123.57,7.92],[123.59,7.29],[123.61,7.62],[123.63,7.05],[123.65,7.41],[123.67,7.84],[123.69,7.18],[123.72,7.57],[123.74,7.98],[123.76,7.35],[123.78,7.71],[123.8,7.09],[123.82,7.46],[123.84,7.87],[123.86,7.23],[123.88,7.61],[123.9,7.39],[123.92,7.94],[123.94,7.15],[123.96,7.53],[123.98,7.79],[124.02,7.26],[124.04,7.68],[124.06,7.04],[124.08,7.44],[124.1,7.88],[124.12,7.32],[124.14,7.74],[124.16,7.12],[124.19,7.51],[124.21,7.93],[124.23,7.37],[124.25,7.63],[124.27,7.07],[124.29,7.47],[124.31,7.83],[124.33,7.21],[124.35,7.59],[124.37,7.96],[124.39,7.33],[124.41,7.72],[124.43,7.14],[124.45,7.55],[124.47,7.85],[124.49,7.28],[124.52,7.64],[124.54,7.09],[124.56,7.46],[124.59,7.91],[124.61,7.25],[124.63,7.69],[124.65,7.03],[124.68,7.42],[124.7,7.81],[124.72,7.19],[124.74,7.57],[124.77,7.95],[124.79,7.34],[124.81,7.73],[124.83,7.11],[124.86,7.52],[124.88,7.86],[124.9,7.27],[124.92,7.65],[124.95,7.06],[124.97,7.48],[124.99,7.83],[125.02,7.38],[125.05,7.76],[125.07,7.15],[125.1,7.54],[125.12,7.92],[125.15,7.29],[125.17,7.67],[125.2,7.04],[125.22,7.45],[125.25,7.84],[125.27,7.22],[125.3,7.61],[125.32,7.97],[125.35,7.36],[125.37,7.74],[125.4,7.12],[125.42,7.51],[125.45,7.88],[125.47,7.26],[125.49,7.63],[125.53,7.43],[125.56,7.85],[125.59,7.18],[125.62,7.58],[125.64,7.94],[125.67,7.31],[125.7,7.71],[125.73,7.07],[125.76,7.49],[125.79,7.87],[125.82,7.24],[125.84,7.62],[125.87,7.39],[125.9,7.96],[125.92,7.13],[125.95,7.55],[125.97,7.78],[125.99,7.34],[126.03,7.67],[126.07,7.21],[126.11,7.58],[126.15,7.93],[126.2,7.35],[126.24,7.72],[126.28,7.09],[126.32,7.47],[126.36,7.86],[126.4,7.28],[126.44,7.64],[126.49,7.41],
[123.01,6.46],[123.03,6.85],[123.05,6.18],[123.07,6.62],[123.1,6.33],[123.12,6.94],[123.15,6.07],[123.17,6.51],[123.2,6.77],[123.22,6.24],[123.25,6.68],[123.28,6.41],[123.3,6.96],[123.33,6.13],[123.36,6.57],[123.38,6.82],[123.41,6.29],[123.43,6.71],[123.46,6.05],[123.48,6.48],[123.51,6.88],[123.53,6.22],[123.56,6.63],[123.58,6.37],[123.6,6.92],[123.63,6.11],[123.65,6.54],[123.67,6.79],[123.7,6.26],[123.72,6.66],[123.74,6.03],[123.77,6.45],[123.79,6.87],[123.81,6.31],[123.83,6.72],[123.86,6.16],[123.88,6.58],[123.9,6.95],[123.92,6.34],[123.94,6.74],[123.96,6.09],[123.98,6.52],[124.02,6.83],[124.04,6.27],[124.07,6.64],[124.09,6.06],[124.11,6.47],[124.14,6.91],[124.16,6.35],[124.18,6.76],[124.21,6.14],[124.23,6.55],[124.25,6.97],[124.28,6.23],[124.3,6.68],[124.32,6.42],[124.35,6.86],[124.37,6.08],[124.39,6.51],[124.42,6.73],[124.44,6.19],[124.46,6.62],[124.48,6.94],[124.49,6.37],[124.52,6.57],[124.54,6.12],[124.57,6.84],[124.59,6.43],[124.61,6.02],[124.64,6.69],[124.66,6.28],[124.68,6.93],[124.71,6.36],[124.73,6.75],[124.75,6.16],[124.78,6.54],[124.8,6.89],[124.82,6.24],[124.85,6.65],[124.87,6.07],[124.89,6.48],[124.92,6.81],[124.94,6.33],[124.96,6.72],[124.98,6.14],[124.99,6.59],[125.03,6.78],[125.05,6.21],[125.08,6.63],[125.1,6.95],[125.13,6.38],[125.15,6.74],[125.18,6.11],[125.2,6.52],[125.23,6.87],[125.25,6.29],[125.28,6.67],[125.3,6.04],[125.33,6.45],[125.35,6.91],[125.38,6.33],[125.4,6.71],[125.43,6.17],[125.45,6.56],[125.47,6.84],[125.49,6.25],[125.53,6.61],[125.56,6.13],[125.59,6.49],[125.62,6.88],[125.64,6.27],[125.67,6.69],[125.7,6.05],[125.73,6.44],[125.76,6.82],[125.79,6.35],[125.82,6.73],[125.84,6.18],[125.87,6.58],[125.9,6.94],[125.92,6.31],[125.95,6.66],[125.97,6.09],[125.99,6.47],[126.03,6.83],[126.07,6.36],[126.11,6.71],[126.15,6.14],[126.2,6.55],[126.24,6.92],[126.28,6.28],[126.32,6.64],[126.36,6.07],[126.4,6.49],[126.44,6.78],[126.48,6.22],
[123.02,5.64],[123.05,5.21],[123.08,5.88],[123.11,5.42],[123.14,5.07],[123.18,5.71],[123.21,5.33],[123.24,5.93],[123.28,5.16],[123.31,5.56],[123.35,5.79],[123.38,5.27],[123.42,5.62],[123.46,5.04],[123.51,5.47],[123.54,5.84],[123.57,5.13],[123.6,5.58],[123.63,5.95],[123.66,5.32],[123.69,5.69],[123.72,5.09],[123.75,5.51],[123.78,5.87],[123.81,5.24],[123.84,5.63],[123.87,5.38],[123.9,5.92],[123.93,5.17],[123.97,5.54],[124.02,5.76],[124.05,5.19],[124.08,5.61],[124.11,5.97],[124.14,5.36],[124.17,5.72],[124.2,5.08],[124.24,5.49],[124.27,5.85],[124.3,5.26],[124.33,5.66],[124.36,5.03],[124.39,5.43],[124.42,5.81],[124.45,5.31],[124.48,5.68],[124.52,5.12],[124.55,5.53],[124.58,5.89],[124.61,5.28],[124.64,5.64],[124.67,5.06],[124.7,5.46],[124.73,5.83],[124.76,5.22],[124.79,5.59],[124.82,5.96],[124.85,5.37],[124.88,5.74],[124.91,5.14],[124.94,5.51],[124.97,5.86],[125.03,5.41],[125.06,5.79],[125.1,5.18],[125.13,5.57],[125.17,5.93],[125.2,5.33],[125.24,5.69],[125.27,5.07],[125.31,5.48],[125.34,5.84],[125.38,5.26],[125.41,5.63],[125.45,5.91],[125.48,5.38],[125.54,5.72],[125.58,5.29],[125.62,5.66],[125.66,5.94],[125.7,5.43],[125.74,5.81],[125.78,5.21],[125.82,5.58],[125.86,5.87],[125.9,5.35],[125.94,5.69],[125.98,5.52],[126.05,5.83],[126.12,5.47],[126.19,5.74],[126.27,5.36],[126.34,5.91],[126.42,5.62],
[123.0,4.3],[123.62,3.81],[123.61,4.07],[123.73,3.89],[123.81,4.14],[123.96,3.92],[123.99,4.1],[124.13,4.01],[124.23,4.01],[124.3,4.01],[124.36,4.1],[124.42,3.93],[124.53,3.89],[124.6,4.05],[124.81,3.96],[124.77,4.36],[124.83,4.33],[124.96,4.49],[124.95,4.63],[125.26,4.68],[125.33,4.68],[125.62,4.49],[125.84,4.82],[125.93,5.03],[126.13,5.01],[123.27,4.33],[123.3,4.45],[123.44,4.33],[123.5,4.57],[123.69,4.51],[123.8,4.59],[123.9,4.71],[124.03,4.45],[124.08,4.57],[124.27,4.39],[124.49,4.8],[124.57,4.86],[124.7,4.39],[125.06,4.74],[125.13,4.8],[125.46,4.91],
[126.65,14.07],[126.64,13.41],[126.53,13.23],[126.66,12.22],[126.97,11.99],[126.92,10.98],[126.64,10.16],[126.8,9.15],[126.74,8.35],[126.82,8.0],[126.81,6.46],[126.58,6.43],[126.52,6.02],[126.46,5.55],[126.52,7.82],[126.57,7.3],[124.83,14.66],[125.46,14.14],[126.28,13.66],[126.33,13.6],[125.06,13.97],[125.14,13.86],[124.66,14.17],[124.59,14.25],[124.0,14.14],[123.28,13.87],[123.02,13.93]
];

const blueDense = [
[123.07,10.52],[123.32,10.17],[123.19,10.84],[123.44,10.39],[123.03,10.09],[123.27,10.71],[123.14,10.28],[123.39,10.95],[123.11,10.63],[123.36,10.46],
[123.58,10.33],[123.83,10.76],[123.71,10.04],[123.96,10.58],[123.54,10.91],[123.79,10.24],[123.66,10.67],[123.91,10.12],[123.62,10.49],[123.87,10.88],
[124.09,10.71],[124.34,10.26],[124.21,10.93],[124.46,10.52],[124.04,10.36],[124.29,10.09],[124.16,10.61],[124.41,10.84],[124.12,10.15],[124.37,10.43],
[124.56,10.27],[124.81,10.64],[124.69,10.11],[124.94,10.49],[124.52,10.82],[124.77,10.34],[124.64,10.97],[124.89,10.21],[124.59,10.58],[124.84,10.04],
[123.04,9.28],[123.29,9.71],[123.16,9.07],[123.41,9.54],[123.08,9.89],[123.33,9.16],[123.21,9.43],[123.46,9.82],[123.12,9.62],[123.37,9.35],
[123.61,9.78],[123.86,9.22],[123.73,9.51],[123.98,9.94],[123.56,9.13],[123.81,9.64],[123.68,9.33],[123.93,9.06],[123.64,9.87],[123.89,9.45],
[124.07,9.37],[124.32,9.84],[124.19,9.11],[124.44,9.59],[124.03,9.72],[124.28,9.26],[124.15,9.93],[124.41,9.42],[124.11,9.04],[124.36,9.67],
[124.58,9.62],[124.83,9.18],[124.71,9.87],[124.96,9.39],[124.54,9.29],[124.79,9.75],[124.66,9.05],[124.91,9.56],[124.62,9.97],[124.87,9.12],
[125.09,9.25],[125.34,9.68],[125.21,9.02],[125.46,9.47],[125.05,9.83],[125.29,9.34],[125.16,9.59],[125.41,9.91],[125.12,9.14],[125.37,9.51],
[123.06,8.71],[123.31,8.26],[123.18,8.94],[123.43,8.48],[123.03,8.17],[123.27,8.62],[123.14,8.35],[123.39,8.86],[123.11,8.07],[123.35,8.53],
[123.59,8.38],[123.84,8.81],[123.71,8.14],[123.96,8.57],[123.55,8.69],[123.79,8.23],[123.67,8.92],[123.92,8.44],[123.63,8.05],[123.88,8.66],
[124.08,8.54],[124.33,8.11],[124.21,8.77],[124.46,8.33],[124.04,8.96],[124.29,8.42],[124.16,8.19],[124.41,8.68],[124.12,8.83],[124.37,8.02],
[124.57,8.73],[124.82,8.28],[124.69,8.51],[124.94,8.89],[124.53,8.14],[124.78,8.62],[124.65,8.37],[124.91,8.04],[124.61,8.95],[124.86,8.46],
[125.08,8.41],[125.33,8.84],[125.21,8.16],[125.46,8.59],[125.04,8.72],[125.29,8.07],[125.16,8.52],[125.41,8.97],[125.12,8.29],[125.37,8.65],
[125.59,8.63],[125.84,8.18],[125.71,8.91],[125.96,8.44],[125.55,8.33],[125.79,8.76],[125.67,8.09],[125.92,8.58],[125.63,8.85],[125.88,8.24],
[123.05,7.39],[123.3,7.82],[123.17,7.13],[123.42,7.57],[123.03,7.71],[123.26,7.24],[123.13,7.93],[123.38,7.46],[123.1,7.06],[123.34,7.65],
[123.58,7.62],[123.83,7.17],[123.7,7.88],[123.95,7.34],[123.54,7.25],[123.79,7.73],[123.66,7.04],[123.91,7.52],[123.62,7.95],[123.87,7.43],
[124.09,7.78],[124.34,7.36],[124.21,7.09],[124.46,7.61],[124.05,7.47],[124.29,7.92],[124.17,7.22],[124.42,7.84],[124.13,7.58],[124.38,7.14],
[124.57,7.31],[124.82,7.76],[124.69,7.55],[124.94,7.12],[124.53,7.87],[124.78,7.43],[124.65,7.18],[124.9,7.68],[124.61,7.97],[124.86,7.27],
[125.08,7.66],[125.33,7.23],[125.21,7.91],[125.46,7.47],[125.04,7.08],[125.29,7.79],[125.16,7.36],[125.41,7.02],[125.12,7.54],[125.37,7.85],
[125.58,7.29],[125.83,7.68],[125.71,7.04],[125.96,7.51],[125.54,7.86],[125.79,7.38],[125.66,7.62],[125.91,7.17],[125.62,7.45],[125.87,7.93],
[123.06,6.73],[123.31,6.28],[123.18,6.95],[123.43,6.52],[123.03,6.14],[123.27,6.64],[123.14,6.39],[123.39,6.87],[123.1,6.57],[123.35,6.09],
[123.59,6.46],[123.84,6.91],[123.71,6.18],[123.96,6.63],[123.55,6.77],[123.8,6.33],[123.67,6.03],[123.92,6.55],[123.63,6.96],[123.88,6.24],
[124.08,6.59],[124.33,6.15],[124.2,6.82],[124.45,6.37],[124.04,6.93],[124.29,6.48],[124.16,6.22],[124.41,6.71],[124.12,6.05],[124.37,6.88],
[124.58,6.84],[124.83,6.41],[124.7,6.13],[124.95,6.67],[124.54,6.52],[124.79,6.96],[124.66,6.27],[124.91,6.36],[124.62,6.75],[124.87,6.08],
[125.07,6.35],[125.32,6.78],[125.2,6.06],[125.45,6.54],[125.03,6.65],[125.28,6.19],[125.15,6.91],[125.4,6.43],[125.11,6.27],[125.36,6.97],
[125.59,6.72],[125.84,6.26],[125.71,6.94],[125.96,6.41],[125.55,6.16],[125.8,6.63],[125.67,6.38],[125.92,6.85],[125.63,6.03],[125.88,6.51],
[123.07,5.53],[123.32,5.86],[123.19,5.19],[123.44,5.67],[123.04,5.34],[123.28,5.74],[123.15,5.42],[123.4,5.11],[123.11,5.95],[123.36,5.47],
[123.58,5.71],[123.83,5.28],[123.7,5.92],[123.95,5.46],[123.55,5.14],[123.79,5.63],[123.66,5.37],[123.91,5.81],[123.62,5.02],[123.87,5.55],
[124.09,5.44],[124.34,5.89],[124.21,5.16],[124.46,5.58],[124.05,5.69],[124.3,5.23],[124.17,5.94],[124.42,5.35],[124.13,5.08],[124.38,5.73],
[124.57,5.66],[124.82,5.21],[124.69,5.83],[124.94,5.39],[124.53,5.49],[124.78,5.96],[124.65,5.12],[124.9,5.58],[124.61,5.31],[124.86,5.77]
];

// ---------- build ----------
const toRows = pts => pts.map(([mh, dm]) => ({mh, dm}));
const orangeRows = toRows([...orangeLeft, ...orangeUpper, ...orangeCore, ...orangeDense, ...orangeLow]);
const redRows = toRows(redPoints);
const blueRows = toRows([...bluePoints, ...blueDense]);
const axisGray = "#6a6a6a";
const dotR = 2.5;
// frame inner size: 1205 x 745 px; inward tick lengths 8 (major) / 4.5 (minor)
const innerW = 1205, innerH = 745;
const majorLen = 8, minorLen = 4.5;
const tickStyle = {stroke: axisGray, strokeWidth: 1};

const chart = Plot.plot({
  width: 1334, height: 856,
  marginLeft: 128, marginRight: 1, marginTop: 1, marginBottom: 110,
  x: {domain: xDomain},
  y: {domain: yDomain},
  style: {fontFamily: "'Liberation Sans', Arial, sans-serif", background: "#fff", color: "#000"},
  marks: [
    Plot.dot(orangeRows, {x: "mh", y: "dm", r: dotR, fill: seriesColors.orange}),
    Plot.dot(redRows, {x: "mh", y: "dm", r: dotR, fill: seriesColors.red}),
    Plot.dot(blueRows, {x: "mh", y: "dm", r: dotR, fill: seriesColors.blue}),
    Plot.frame({stroke: axisGray, strokeWidth: 1.2}),
    Plot.tickX(xMajorTicks, {x: d => d, insetTop: innerH - majorLen, ...tickStyle}),
    Plot.tickX(xMinorTicks, {x: d => d, insetTop: innerH - minorLen, ...tickStyle}),
    Plot.tickX(xMajorTicks, {x: d => d, insetBottom: innerH - majorLen, ...tickStyle}),
    Plot.tickX(xMinorTicks, {x: d => d, insetBottom: innerH - minorLen, ...tickStyle}),
    Plot.tickY(yMajorTicks, {y: d => d, insetRight: innerW - majorLen, ...tickStyle}),
    Plot.tickY(yMinorTicks, {y: d => d, insetRight: innerW - minorLen, ...tickStyle}),
    Plot.tickY(yMajorTicks, {y: d => d, insetLeft: innerW - majorLen, ...tickStyle}),
    Plot.tickY(yMinorTicks, {y: d => d, insetLeft: innerW - minorLen, ...tickStyle}),
    Plot.axisX({ticks: xMajorTicks, anchor: "bottom", tickSize: 0, tickPadding: 16, fontSize: 38, fill: "#000", label: null}),
    Plot.axisY({ticks: yMajorTicks, anchor: "left", tickSize: 0, tickPadding: 7, fontSize: 38, fill: "#000", label: null})
  ]
});
document.getElementById("chart").appendChild(chart);

const svg = d3.select(chart);
// x-axis label
const xl = svg.append("text").attr("x", 730).attr("y", 838).attr("text-anchor", "middle")
  .attr("font-size", 41).attr("fill", "#000");
xl.append("tspan").attr("font-style", "italic").text("m");
xl.append("tspan").attr("font-style", "italic").attr("font-size", 29).attr("dy", 8).text("h");
xl.append("tspan").attr("dy", -8).text(" (GeV)");

// y-axis label
const yl = svg.append("text").attr("transform", "translate(45,373.5) rotate(-90)")
  .attr("text-anchor", "middle").attr("font-size", 42).attr("fill", "#000");
yl.append("tspan").text("Δm");
yl.append("tspan").attr("font-size", 25).attr("dy", -21).text("0");
yl.append("tspan").attr("dy", 21).text(" = m");
yl.append("tspan").attr("font-size", 29).attr("dy", 13).attr("font-family", "'DejaVu Sans', sans-serif").text("χ̃");
yl.append("tspan").attr("font-size", 19).attr("dy", 6).text("2");
yl.append("tspan").attr("font-size", 19).attr("dx", -10).attr("dy", -19).text("0");
yl.append("tspan").attr("font-size", 29).attr("dy", 13).text("−");
yl.append("tspan").attr("font-size", 29).attr("font-family", "'DejaVu Sans', sans-serif").text("χ̃");
yl.append("tspan").attr("font-size", 19).attr("dy", 6).text("1");
yl.append("tspan").attr("font-size", 19).attr("dx", -10).attr("dy", -19).text("0");
yl.append("tspan").attr("dy", 0).text("(GeV)");

// legend
svg.append("rect").attr("x", 559).attr("y", 10).attr("width", 766).attr("height", 163)
  .attr("rx", 9).attr("fill", "none").attr("stroke", "#3a3a3a").attr("stroke-width", 1.5);
legendRelations.forEach((rel, i) => {
  const base = 57 + i * 74;
  svg.append("circle").attr("cx", 580).attr("cy", base - 5).attr("r", 5).attr("fill", legendColors[i]);
  const t = svg.append("text").attr("x", 597).attr("y", base).attr("text-anchor", "start")
    .attr("font-size", 41).attr("word-spacing", 1.5).attr("fill", "#000");
  t.append("tspan").text("123 < ");
  t.append("tspan").attr("font-style", "italic").text("m");
  t.append("tspan").attr("font-style", "italic").attr("font-size", 28).attr("dy", 8).text("h");
  t.append("tspan").attr("dy", -8).text(" < 127 GeV & ");
  t.append("tspan").attr("font-style", "italic").text("m");
  t.append("tspan").attr("font-style", "italic").attr("font-size", 28).attr("dy", 13).text("g̃");
  t.append("tspan").attr("dy", -13).text(` ${rel} 2.25 TeV`);
});
</script>
</body></html>
